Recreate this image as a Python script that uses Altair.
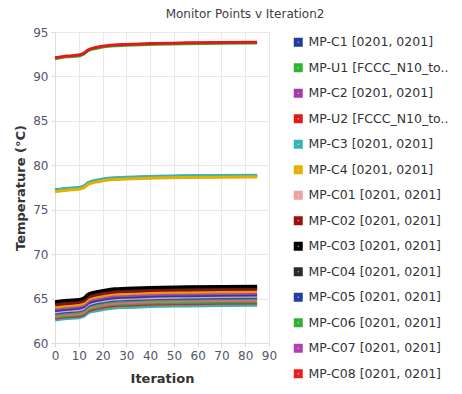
import altair as alt
import pandas as pd

iterations = [0, 5, 10, 12, 14, 17, 20, 25, 30, 40, 55, 70, 85]

series_names = [
    "MP-C1 [0201, 0201]", "MP-U1 [FCCC_N10_to..", "MP-C2 [0201, 0201]",
    "MP-U2 [FCCC_N10_to..", "MP-C3 [0201, 0201]", "MP-C4 [0201, 0201]",
    "MP-C01 [0201, 0201]", "MP-C02 [0201, 0201]", "MP-C03 [0201, 0201]",
    "MP-C04 [0201, 0201]", "MP-C05 [0201, 0201]", "MP-C06 [0201, 0201]",
    "MP-C07 [0201, 0201]", "MP-C08 [0201, 0201]",
    "MP-C09 [0201, 0201]", "MP-C10 [0201, 0201]", "MP-C11 [0201, 0201]",
    "MP-C12 [0201, 0201]", "MP-C15 [0201, 0201]", "MP-C16 [0201, 0201]",
]

series_colors = [
    "#1f3d99", "#2db52d", "#a63ca6", "#e01a1a", "#33b5b8", "#e6b000",
    "#f0a0a0", "#9c1010", "#000000", "#2a2a2a", "#2040a8", "#33b033",
    "#b040b0", "#e52020",
    "#33b5b8", "#e6a000", "#e86090", "#8a1010", "#2050b8", "#30a840",
]

# values per series, at the iterations above
v_C1 = [77.15, 77.3, 77.4, 77.55, 77.95, 78.2, 78.35, 78.5, 78.55, 78.65, 78.72, 78.75, 78.77]
v_U1 = [92.0, 92.2, 92.3, 92.5, 92.9, 93.15, 93.3, 93.45, 93.5, 93.6, 93.68, 93.72, 93.75]
v_C2 = [77.2, 77.35, 77.45, 77.6, 78.0, 78.25, 78.4, 78.55, 78.6, 78.7, 78.78, 78.8, 78.82]
v_U2 = [92.1, 92.3, 92.4, 92.6, 93.0, 93.25, 93.4, 93.55, 93.6, 93.7, 93.78, 93.83, 93.85]
v_C3 = [77.25, 77.4, 77.5, 77.65, 78.05, 78.3, 78.45, 78.6, 78.65, 78.75, 78.82, 78.85, 78.87]
v_C4 = [77.05, 77.2, 77.3, 77.45, 77.85, 78.1, 78.25, 78.4, 78.45, 78.55, 78.62, 78.65, 78.67]
v_C01 = [63.5, 63.65, 63.75, 63.9, 64.35, 64.6, 64.75, 64.95, 65.0, 65.1, 65.17, 65.22, 65.25]
v_C02 = [64.45, 64.6, 64.7, 64.85, 65.3, 65.55, 65.7, 65.9, 65.95, 66.05, 66.12, 66.17, 66.2]
v_C03 = [64.65, 64.8, 64.9, 65.05, 65.5, 65.75, 65.9, 66.1, 66.15, 66.25, 66.32, 66.37, 66.4]
v_C04 = [64.55, 64.7, 64.8, 64.95, 65.4, 65.65, 65.8, 66.0, 66.05, 66.15, 66.22, 66.27, 66.3]
v_C05 = [63.65, 63.8, 63.9, 64.05, 64.5, 64.75, 64.9, 65.1, 65.15, 65.25, 65.32, 65.37, 65.4]
v_C06 = [63.25, 63.4, 63.5, 63.65, 64.1, 64.35, 64.5, 64.7, 64.75, 64.85, 64.92, 64.97, 65.0]
v_C07 = [63.85, 64.0, 64.1, 64.25, 64.7, 64.95, 65.1, 65.3, 65.35, 65.45, 65.52, 65.57, 65.6]
v_C08 = [62.8, 62.95, 63.05, 63.2, 63.6, 63.85, 64.0, 64.2, 64.25, 64.35, 64.42, 64.47, 64.5]
v_C09 = [62.6, 62.75, 62.85, 63.0, 63.4, 63.6, 63.75, 63.95, 64.0, 64.1, 64.17, 64.22, 64.25]
v_C10 = [64.05, 64.2, 64.3, 64.45, 64.9, 65.15, 65.3, 65.5, 65.55, 65.65, 65.72, 65.77, 65.8]
v_C11 = [63.05, 63.2, 63.3, 63.45, 63.9, 64.15, 64.3, 64.5, 64.55, 64.65, 64.72, 64.77, 64.8]
v_C12 = [64.3, 64.45, 64.55, 64.7, 65.15, 65.4, 65.55, 65.75, 65.8, 65.9, 65.97, 66.02, 66.05]
v_C15 = [63.37, 63.52, 63.62, 63.77, 64.22, 64.47, 64.62, 64.82, 64.87, 64.97, 65.04, 65.09, 65.12]
v_C16 = [62.92, 63.07, 63.17, 63.32, 63.75, 64.0, 64.15, 64.35, 64.4, 64.5, 64.57, 64.62, 64.65]

series_values = [
    v_C1, v_U1, v_C2, v_U2, v_C3, v_C4, v_C01, v_C02, v_C03, v_C04, v_C05,
    v_C06, v_C07, v_C08, v_C09, v_C10, v_C11, v_C12, v_C15, v_C16,
]

# draw order (later on top)
draw_order = [
    "MP-C09 [0201, 0201]", "MP-C08 [0201, 0201]", "MP-C16 [0201, 0201]",
    "MP-C11 [0201, 0201]", "MP-C06 [0201, 0201]", "MP-C15 [0201, 0201]",
    "MP-C01 [0201, 0201]", "MP-C05 [0201, 0201]", "MP-C07 [0201, 0201]",
    "MP-C10 [0201, 0201]", "MP-C12 [0201, 0201]", "MP-C02 [0201, 0201]",
    "MP-C04 [0201, 0201]", "MP-C03 [0201, 0201]",
    "MP-C1 [0201, 0201]", "MP-C2 [0201, 0201]", "MP-C3 [0201, 0201]",
    "MP-C4 [0201, 0201]", "MP-U1 [FCCC_N10_to..", "MP-U2 [FCCC_N10_to..",
]

rows = []
for k, name in enumerate(draw_order):
    vals = series_values[series_names.index(name)]
    for it, v in zip(iterations, vals):
        rows.append({"Series": name, "Iteration": it, "Temp": v, "o": k})
df = pd.DataFrame(rows)

FONT = "DejaVu Sans"

axis_style = dict(
    titleFontWeight="bold", titleFontSize=13, titleColor="#333333",
    labelFontSize=12, labelColor="#55556a", labelPadding=3, labelFlush=False,
    tickColor="#dddddd", tickSize=4, domainColor="#dddddd", gridColor="#e8e8e8",
)

chart = alt.Chart(df).mark_line(strokeWidth=3, interpolate="monotone").encode(
    x=alt.X("Iteration:Q", scale=alt.Scale(domain=[0, 90], nice=False),
            axis=alt.Axis(values=list(range(0, 91, 10)), title="Iteration",
                          titlePadding=11, **axis_style)),
    y=alt.Y("Temp:Q", scale=alt.Scale(domain=[60, 95], nice=False, zero=False),
            axis=alt.Axis(values=list(range(60, 96, 5)), title="Temperature (°C)",
                          titlePadding=5, **axis_style)),
    color=alt.Color("Series:N",
                    scale=alt.Scale(domain=series_names, range=series_colors),
                    legend=alt.Legend(values=series_names[:14], title=None,
                                      orient="none", legendX=237, legendY=4,
                                      symbolType="square", symbolSize=25,
                                      symbolStrokeWidth=4,
                                      labelFontSize=12.5, labelColor="#333333",
                                      labelFont=FONT, rowPadding=3.5, labelLimit=200)),
    order=alt.Order("o:Q"),
    detail="Series:N",
).properties(
    width=214, height=311,
    title=alt.TitleParams("Monitor Points v Iteration2", fontSize=12, fontWeight="normal",
                          color="#404040", anchor="middle", dx=83, offset=5,
                          frame="group", font=FONT),
    autosize=alt.AutoSizeParams(type="none"),
    padding={"left": 47, "top": 24, "right": 185, "bottom": 43},
).configure(font=FONT).configure_view(stroke="#dddddd")

chart.save("out.html", embed_options={"renderer": "svg", "actions": False})
